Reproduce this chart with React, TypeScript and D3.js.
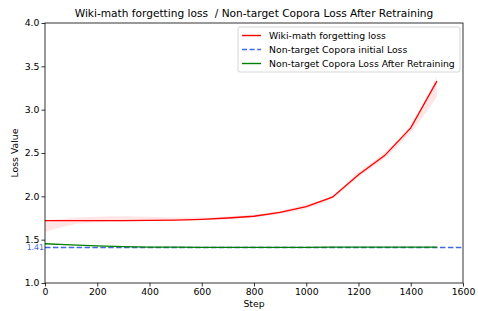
import { useEffect, useRef } from "react";
import * as d3 from "d3";

const steps = [0, 100, 200, 300, 400, 500, 600, 700, 800, 900, 1000, 1100, 1200, 1300, 1400, 1500];
const forgetLoss = [1.72, 1.72, 1.72, 1.72, 1.722, 1.726, 1.735, 1.75, 1.77, 1.815, 1.88, 1.99, 2.25, 2.47, 2.79, 3.33];
const forgetLow = [1.59, 1.67, 1.7, 1.71, 1.715, 1.72, 1.725, 1.735, 1.755, 1.795, 1.86, 1.975, 2.22, 2.44, 2.74, 3.15];
const forgetHigh = [1.72, 1.75, 1.765, 1.77, 1.765, 1.755, 1.755, 1.77, 1.79, 1.835, 1.91, 2.01, 2.28, 2.51, 2.83, 3.38];
const retrainLoss = [1.453, 1.44, 1.428, 1.42, 1.415, 1.413, 1.412, 1.412, 1.412, 1.412, 1.412, 1.414, 1.414, 1.414, 1.414, 1.413];
const initialLoss = 1.41;
const xTicks = [0, 200, 400, 600, 800, 1000, 1200, 1400, 1600];
const yTicks = [1.0, 1.5, 2.0, 2.5, 3.0, 3.5, 4.0];
const legendLabels = [
  "Wiki-math forgetting loss",
  "Non-target Copora initial Loss",
  "Non-target Copora Loss After Retraining",
];

export default function App() {
  const svgRef = useRef<SVGSVGElement | null>(null);

  useEffect(() => {
    const svg = d3.select(svgRef.current);
    svg.selectAll("*").remove();
    const width = 478;
    const height = 311;
    const margin = { top: 23, right: 15, bottom: 28, left: 45 };
    const iw = width - margin.left - margin.right;
    const ih = height - margin.top - margin.bottom;
    const font = "DejaVu Sans, sans-serif";
    const fs = 9.3;

    svg.append("rect").attr("width", width).attr("height", height).attr("fill", "#fff");

    const x = d3.scaleLinear().domain([0, 1600]).range([0, iw]);
    const y = d3.scaleLinear().domain([1, 4]).range([ih, 0]);

    const g = svg.append("g").attr("transform", `translate(${margin.left},${margin.top})`);

    // shaded band
    const area = d3
      .area<number>()
      .x((_, i) => x(steps[i]))
      .y0((_, i) => y(forgetLow[i]))
      .y1((_, i) => y(forgetHigh[i]))
      .curve(d3.curveMonotoneX);
    g.append("path").datum(steps).attr("d", area).attr("fill", "red").attr("opacity", 0.1);

    const line = (vals: number[]) =>
      d3
        .line<number>()
        .x((_, i) => x(steps[i]))
        .y((_, i) => y(vals[i]))(vals);

    g.append("path").attr("d", line(forgetLoss)).attr("fill", "none").attr("stroke", "red").attr("stroke-width", 1.3);

    g.append("line")
      .attr("x1", x(0))
      .attr("x2", x(1600))
      .attr("y1", y(initialLoss))
      .attr("y2", y(initialLoss))
      .attr("stroke", "#4169e1")
      .attr("stroke-width", 1.5)
      .attr("stroke-dasharray", "5.5,2.4");

    g.append("path").attr("d", line(retrainLoss)).attr("fill", "none").attr("stroke", "green").attr("stroke-width", 1.3);

    // axes
    const xAxis = g
      .append("g")
      .attr("transform", `translate(0,${ih})`)
      .call(d3.axisBottom(x).tickValues(xTicks).tickSize(3.5).tickPadding(2).tickFormat(d3.format("d")));
    const yAxis = g
      .append("g")
      .call(d3.axisLeft(y).tickValues(yTicks).tickSize(3.5).tickPadding(2).tickFormat(d3.format(".1f")));
    [xAxis, yAxis].forEach((a) => {
      a.select(".domain").remove();
      a.selectAll("text").attr("font-family", font).attr("font-size", fs).attr("fill", "#000");
      a.selectAll("line").attr("stroke", "#000").attr("stroke-width", 0.8);
    });

    g.append("rect")
      .attr("width", iw)
      .attr("height", ih)
      .attr("fill", "none")
      .attr("stroke", "#000")
      .attr("stroke-width", 0.8);

    // 1.41 annotation
    g.append("text")
      .attr("x", -1)
      .attr("y", y(initialLoss))
      .attr("dy", "0.35em")
      .attr("text-anchor", "end")
      .attr("font-family", font)
      .attr("font-size", 7.8)
      .attr("fill", "#4169e1")
      .text("1.41");

    svg.append("text")
      .attr("x", margin.left + iw / 2)
      .attr("y", 17)
      .attr("text-anchor", "middle")
      .attr("font-family", font)
      .attr("font-size", 10.6)
      .attr("fill", "#000")
      .attr("xml:space", "preserve")
      .style("white-space", "pre")
      .text("Wiki-math forgetting loss  / Non-target Copora Loss After Retraining");

    svg.append("text")
      .attr("x", margin.left + iw / 2)
      .attr("y", 307)
      .attr("text-anchor", "middle")
      .attr("font-family", font)
      .attr("font-size", fs)
      .text("Step");

    svg.append("text")
      .attr("transform", `translate(18,${margin.top + ih / 2}) rotate(-90)`)
      .attr("text-anchor", "middle")
      .attr("font-family", font)
      .attr("font-size", fs)
      .text("Loss Value");

    // legend
    const lx = 238;
    const ly = 27;
    const lw = 222;
    const lh = 45;
    const leg = svg.append("g").attr("transform", `translate(${lx},${ly})`);
    leg.append("rect")
      .attr("width", lw)
      .attr("height", lh)
      .attr("rx", 2)
      .attr("fill", "#fff")
      .attr("fill-opacity", 0.8)
      .attr("stroke", "#ccc")
      .attr("stroke-width", 0.8);
    const colors = ["red", "#4169e1", "green"];
    const dashes = [null, "5,2.6", null];
    legendLabels.forEach((lab, i) => {
      const yy = 8.5 + i * 14;
      leg.append("line")
        .attr("x1", 4)
        .attr("x2", 23)
        .attr("y1", yy)
        .attr("y2", yy)
        .attr("stroke", colors[i])
        .attr("stroke-width", 1.4)
        .attr("stroke-dasharray", dashes[i]);
      leg.append("text")
        .attr("x", 31)
        .attr("y", yy)
        .attr("dy", "0.35em")
        .attr("font-family", font)
        .attr("font-size", fs)
        .attr("fill", "#000")
        .text(lab);
    });
  }, []);

  return (
    <div style={{ position: "absolute", left: 0, top: 0 }}>
      <svg ref={svgRef} width={478} height={311} style={{ display: "block" }} />
    </div>
  );
}
